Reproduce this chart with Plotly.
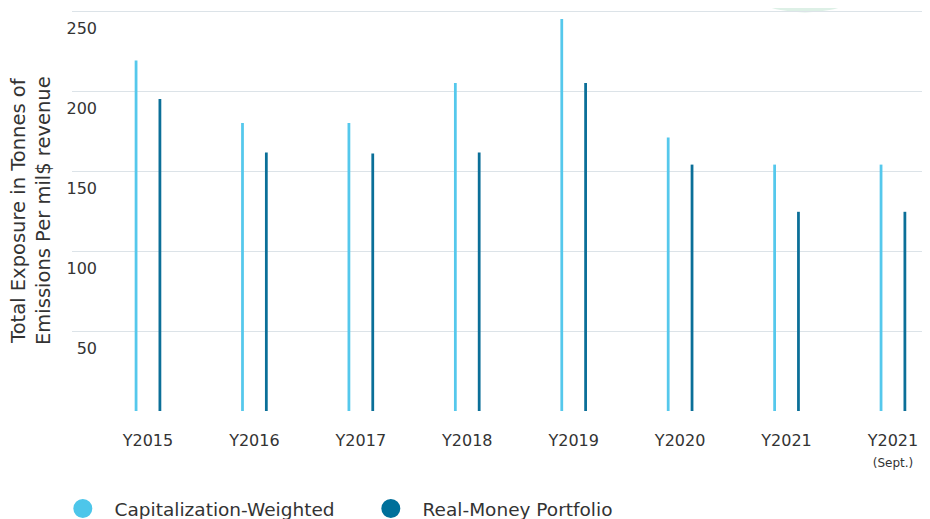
import plotly.graph_objects as go

categories = ["Y2015", "Y2016", "Y2017", "Y2018", "Y2019", "Y2020", "Y2021", "Y2021<br><span style='font-size:12px'>(Sept.)</span>"]
cap_weighted = [219, 180, 180, 205, 245, 171, 154, 154]
real_money = [195, 161.5, 161, 161.5, 205, 154, 124.5, 124.5]
y_ticks = [50, 100, 150, 200, 250]

LIGHT = "#55C8EC"
DARK = "#0B6F98"
LEG_LIGHT = "#4DC6EA"
LEG_DARK = "#00709A"
TXT = "#333333"
FONT = "DejaVu Sans"

pos = list(range(len(categories)))
bw = 0.026
off = 0.112

# page is shown with an 8px body margin, so the figure is 8px smaller
PAGE_OFF = 8
PLOT_H = 402
PLOT_W = 858

fig = go.Figure()
fig.add_trace(go.Bar(x=pos, y=cap_weighted, width=bw, offset=-off - bw / 2,
                     marker=dict(color=LIGHT, line=dict(width=0)), showlegend=False,
                     name="Capitalization-Weighted"))
fig.add_trace(go.Bar(x=pos, y=real_money, width=bw, offset=off - bw / 2,
                     marker=dict(color=DARK, line=dict(width=0)), showlegend=False,
                     name="Real-Money Portfolio"))
# legend entries with circle symbols
fig.add_trace(go.Scatter(x=[None], y=[None], mode="markers", name="\u00a0\u00a0Capitalization-Weighted",
                         marker=dict(symbol="circle", size=16, color=LEG_LIGHT,
                                     line=dict(width=3, color=LEG_LIGHT))))
fig.add_trace(go.Scatter(x=[None], y=[None], mode="markers", name="\u00a0\u00a0Real-Money Portfolio",
                         marker=dict(symbol="circle", size=16, color=LEG_DARK,
                                     line=dict(width=3, color=LEG_DARK))))

r_px = 125
bottom_px = 12.5
y_bottom = (411 - bottom_px) / PLOT_H

fig.update_layout(
    width=930 - PAGE_OFF, height=519 - PAGE_OFF,
    margin=dict(l=72 - PAGE_OFF, r=0, t=9 - PAGE_OFF, b=108, autoexpand=False),
    paper_bgcolor="white", plot_bgcolor="rgba(0,0,0,0)",
    barmode="overlay",
    font=dict(family=FONT, color=TXT, size=16),
    xaxis=dict(range=[-0.714, 7.348], tickmode="array", tickvals=pos, ticktext=categories,
               showgrid=False, zeroline=False, showline=False, ticks="",
               ticklabelstandoff=18, tickfont=dict(size=16, color=TXT), fixedrange=True),
    yaxis=dict(range=[0, 251.25], tickmode="array", tickvals=[0] + y_ticks,
               ticktext=[""] + [str(v) for v in y_ticks],
               showgrid=True, gridcolor="#DCE3E8", gridwidth=1, zeroline=False,
               showline=False, ticks="", ticklabelshift=17, ticklabelstandoff=-26,
               tickfont=dict(size=16, color=TXT), fixedrange=True),
    legend=dict(orientation="h", x=-0.0107, xanchor="left", y=(411 - 509) / PLOT_H, yanchor="middle",
                font=dict(size=18.5, color=TXT), entrywidth=263, itemsizing="trace"),
    showlegend=True,
    shapes=[dict(type="circle", xref="paper", yref="paper", layer="below",
                 x0=(805 - r_px - 72) / PLOT_W, x1=(805 + r_px - 72) / PLOT_W,
                 y0=y_bottom, y1=y_bottom + 2 * r_px / PLOT_H,
                 fillcolor="#DDF0E6", line=dict(width=0))],
    annotations=[dict(text="Total Exposure in Tonnes of<br>Emissions Per mil$ revenue",
                      xref="paper", yref="paper", x=(31 - 72) / PLOT_W, y=(411 - 211) / PLOT_H,
                      xanchor="center", yanchor="middle", textangle=-90, showarrow=False,
                      font=dict(size=19.5, color=TXT, family=FONT))],
)

fig.write_html("out.html")
